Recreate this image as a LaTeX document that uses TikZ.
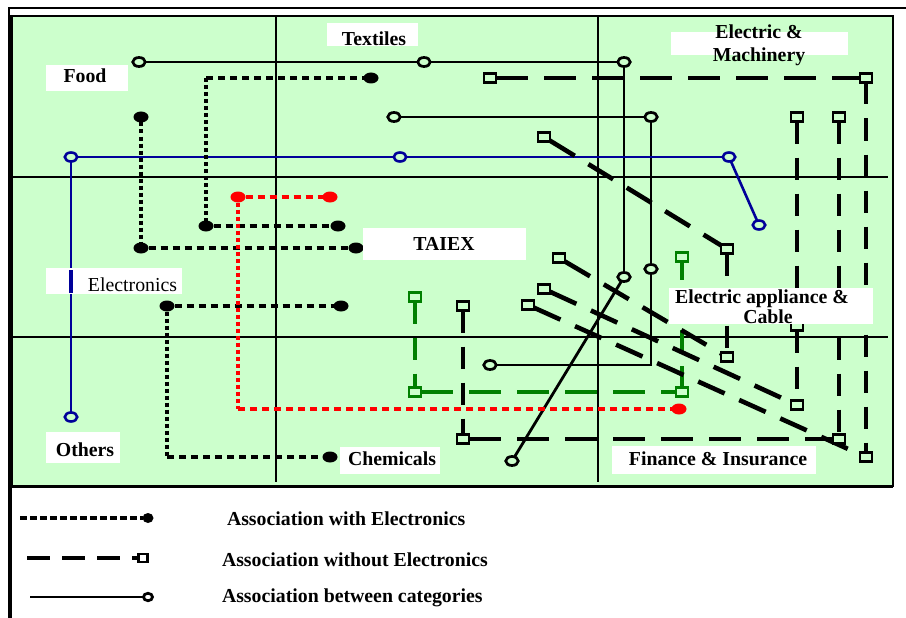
\documentclass[tikz,border=0pt]{standalone}
\usepackage{fontspec}
\setmainfont{Liberation Serif}
\usetikzlibrary{shapes.geometric}
\definecolor{bggreen}{RGB}{204,255,204}
\definecolor{navyline}{RGB}{0,0,153}
\definecolor{greenline}{RGB}{0,128,0}
\pgfdeclarelayer{back}
\pgfdeclarelayer{edges}
\pgfdeclarelayer{front}
\pgfsetlayers{back,edges,main,front}
\begin{document}
\begin{tikzpicture}[x=1pt,y=-1pt,
  every node/.style={inner sep=0pt, outer sep=0pt},
  gridline/.style={line width=1.6pt},
  cat/.style={line width=2.8pt},
  catblue/.style={line width=2.6pt, draw=navyline},
  withh/.style={line width=4pt, dash pattern=on 7pt off 5pt},
  withv/.style={line width=4pt, dash pattern=on 4pt off 3pt},
  woh/.style={line width=4.6pt, dash pattern=on 32pt off 16pt},
  wov/.style={line width=4.6pt, dash pattern=on 22pt off 14pt},
  wod/.style={line width=4.6pt, dash pattern=on 29pt off 16pt},
  oc/.style={ellipse, draw, line width=2.7pt, fill=bggreen, minimum width=12.5pt, minimum height=9pt},
  ocb/.style={oc, draw=navyline, line width=2.6pt},
  fc/.style={ellipse, fill=black, minimum width=15pt, minimum height=11pt},
  fcr/.style={fc, fill=red},
  sq/.style={rectangle, draw, line width=2.5pt, fill=bggreen, minimum width=12pt, minimum height=9pt},
  sqg/.style={sq, draw=greenline},
  lbox/.style={rectangle, fill=white},
  lab/.style={anchor=base, font=\fontsize{19.8}{21}\selectfont\bfseries},
  labr/.style={anchor=base, font=\fontsize{19.8}{21}\selectfont},
  leg/.style={anchor=base west, font=\fontsize{19.8}{21}\selectfont\bfseries}
]
\useasboundingbox (0,0) rectangle (906,618);

% ---------- panel, frame and grid ----------
\begin{pgfonlayer}{back}
  \fill[bggreen] (11.5,16) rectangle (893,486);
  \draw[gridline] (276,16) -- (276,482);
  \draw[gridline] (598,16) -- (598,482);
  \draw[gridline] (12,177) -- (888,177);
  \draw[gridline] (12,337) -- (888,337);
  \draw[line width=2pt] (11.5,16) rectangle (893,486);
  \draw[line width=3pt] (11.5,486) -- (893,486);
  \draw[line width=2.2pt] (9.3,618) -- (9.3,8.3) -- (906,8.3);
  \draw[line width=4pt] (10,15) -- (10,618);
\end{pgfonlayer}

% ---------- end points ----------
% association between categories (black)
\node[oc] (c1) at (139,62) {};
\node[oc] (c2) at (424,62) {};
\node[oc] (c3) at (624,62) {};
\node[oc] (c4) at (624,277) {};
\node[oc] (c5) at (512,461) {};
\node[oc] (c6) at (394,117) {};
\node[oc] (c7) at (651,117) {};
\node[oc] (c8) at (651,269) {};
\node[oc] (c9) at (490,365) {};
\coordinate (k1) at (651,365);
% blue
\node[ocb] (b1) at (71,157) {};
\node[ocb] (b2) at (400,157) {};
\node[ocb] (b3) at (729,157) {};
\node[ocb] (b4) at (759,225) {};
\node[ocb] (b5) at (71,417) {};
% association with electronics (black dotted)
\node[fc] (d1) at (371,78) {};
\coordinate (k2) at (206,78);
\node[fc] (d2) at (206,226) {};
\node[fc] (d3) at (338,226) {};
\node[fc] (d4) at (141,117) {};
\node[fc] (d5) at (141,248) {};
\node[fc] (d6) at (356,248) {};
\node[fc] (d7) at (167,306) {};
\node[fc] (d8) at (341,306) {};
\coordinate (k3) at (167,457);
\node[fc] (d9) at (330,457) {};
% red
\node[fcr] (r1) at (238,197) {};
\node[fcr] (r2) at (330,197) {};
\coordinate (k4) at (238,409);
\node[fcr] (r3) at (679,409) {};
% green
\node[sqg] (g1) at (415,297) {};
\node[sqg] (g2) at (415,392) {};
\node[sqg] (g3) at (682,392) {};
\node[sqg] (g4) at (682,257) {};
% association without electronics (black dashed)
\node[sq] (s1) at (490,78) {};
\node[sq] (s2) at (866,78) {};
\node[sq] (s3) at (866,457) {};
\node[sq] (s4) at (544,137) {};
\node[sq] (s5) at (727,249) {};
\node[sq] (s6) at (727,357) {};
\node[sq] (s7) at (797,117) {};
\node[sq] (s8) at (797,326) {};
\node[sq] (s9) at (797,405) {};
\node[sq] (s10) at (839,117) {};
\node[sq] (s11) at (839,439) {};
\node[sq] (s12) at (463,306) {};
\node[sq] (s13) at (463,439) {};
\node[sq] (s14) at (559,258) {};
\node[sq] (s15) at (544,289) {};
\node[sq] (s16) at (528,305) {};

% ---------- connectors ----------
\begin{pgfonlayer}{edges}
  \draw[cat] (c1) -- (c2);
  \draw[cat] (c2) -- (c3);
  \draw[cat] (c3) -- (c4);
  \draw[cat] (c4) -- (c5);
  \draw[cat] (c6) -- (c7);
  \draw[cat] (c7) -- (c8);
  \draw[cat] (c8) -- (k1) -- (c9);

  \draw[catblue] (b1) -- (b2);
  \draw[catblue] (b2) -- (b3);
  \draw[catblue] (b3) -- (b4);
  \draw[catblue] (b1) -- (b5);

  \draw[withh] (k2) -- (d1);
  \draw[withv] (k2) -- (d2);
  \draw[withh] (d2) -- (d3);
  \draw[withv] (d4) -- (d5);
  \draw[withh] (d5) -- (d6);
  \draw[withh] (d7) -- (d8);
  \draw[withv] (d7) -- (k3);
  \draw[withh] (k3) -- (d9);

  \draw[withh, red] (r1) -- (r2);
  \draw[withv, red] (r1) -- (k4);
  \draw[withh, red] (k4) -- (r3);

  \draw[wov, greenline, line width=4pt] (g1) -- (g2);
  \draw[woh, greenline, line width=4pt] (g2) -- (g3);
  \draw[wov, greenline, line width=4pt] (g3) -- (g4);

  \draw[woh] (s1) -- (s2);
  \draw[wov] (s2) -- (s3);
  \draw[wod] (s4) -- (s5);
  \draw[wov] (s5) -- (s6);
  \draw[wov] (s7) -- (s8);
  \draw[wov] (s8) -- (s9);
  \draw[wov] (s10) -- (s11);
  \draw[wov] (s12) -- (s13);
  \draw[woh] (s13) -- (s11);
  \draw[wod] (s14) -- (s6);
  \draw[wod] (s15) -- (s9);
  \draw[wod] (s16) -- (s3);
\end{pgfonlayer}

% ---------- labels ----------
\begin{pgfonlayer}{front}
  \node[lbox, minimum width=91pt, minimum height=23pt] (bxTextiles) at (372.5,34.5) {};
  \node[lab] (tTextiles) at (374,46) {Textiles};
  \node[lbox, minimum width=82pt, minimum height=26pt] (bxFood) at (87,78) {};
  \node[lab] (tFood) at (85,83) {Food};
  \node[lbox, minimum width=177pt, minimum height=23pt] (bxEM) at (759.5,43.5) {};
  \node[lab] (tEMa) at (759,39) {Electric \&};
  \node[lab] (tEMb) at (759,62) {Machinery};
  \node[lbox, minimum width=163pt, minimum height=32pt] (bxTAIEX) at (444.5,244) {};
  \node[lab] (tTAIEX) at (444,250) {TAIEX};
  \node[lbox, minimum width=136pt, minimum height=26pt] (bxElec) at (114,281) {};
  \draw[line width=4.5pt, navyline] (71,270) -- (71,293);
  \node[labr] (tElec) at (132.5,291) {Electronics};
  \node[lbox, minimum width=74pt, minimum height=31pt] (bxOthers) at (83,447.5) {};
  \node[lab] (tOthers) at (85,456) {Others};
  \node[lbox, minimum width=100pt, minimum height=27pt] (bxChem) at (390,460.5) {};
  \node[lab] (tChem) at (392,465) {Chemicals};
  \node[lbox, minimum width=204pt, minimum height=36pt] (bxEAC) at (771,306) {};
  \node[lab] (tEACa) at (762,303) {Electric appliance \&};
  \node[lab] (tEACb) at (768,323) {Cable};
  \node[lbox, minimum width=204pt, minimum height=28pt] (bxFin) at (714,460) {};
  \node[lab] (tFin) at (718,465) {Finance \& Insurance};
\end{pgfonlayer}

% ---------- legend ----------
\coordinate (lwA) at (20,518);
\node[fc, minimum width=11pt, minimum height=10pt] (lwB) at (148,518) {};
\draw[line width=4pt, dash pattern=on 6.5pt off 3.5pt] (lwA) -- (lwB);
\node[leg] (lwT) at (227,525) {Association with Electronics};

\coordinate (loA) at (27,558);
\node[sq, fill=white, minimum width=9pt, minimum height=8pt] (loB) at (143,558) {};
\draw[line width=4.6pt, dash pattern=on 23pt off 12pt] (loA) -- (loB);
\node[leg] (loT) at (222,566) {Association without Electronics};

\coordinate (lbA) at (30,597);
\node[oc, fill=white, minimum width=9pt, minimum height=7.5pt] (lbB) at (148,597) {};
\draw[cat] (lbA) -- (lbB);
\node[leg] (lbT) at (222,602.5) {Association between categories};
\end{tikzpicture}
\end{document}
